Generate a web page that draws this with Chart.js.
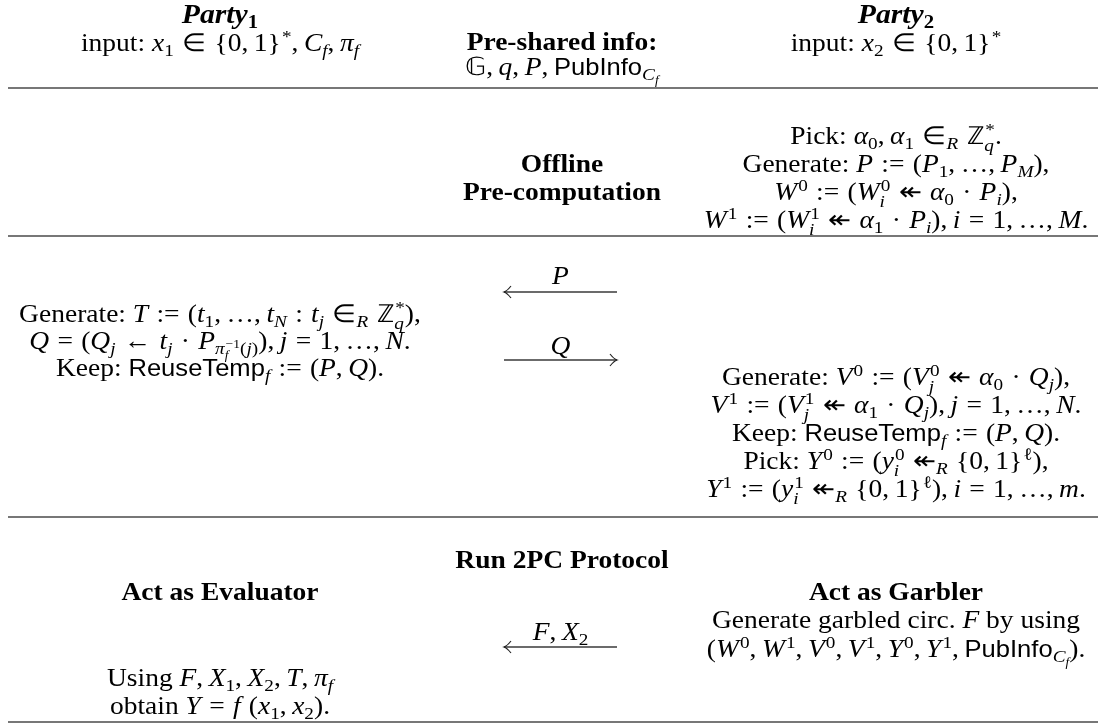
<!DOCTYPE html>
<html>
<head>
<meta charset="utf-8">
<script src="https://cdn.jsdelivr.net/npm/chart.js@4.4.1/dist/chart.umd.min.js"></script>
<style>
  body { margin: 0; background: #fff; }
  canvas { display: block; }
</style>
</head>
<body>
<canvas id="proto" width="1105" height="724"></canvas>
<script>
// ---- content of the protocol table ----
const headerLeft = [String.raw`$\bi{Party_1}$`, String.raw`input: $x_1 ∈ \{0, 1\}^*, C_f, π_f$`];
const headerMid = [String.raw`\bf{Pre-shared info:}`, String.raw`$𝔾, q, P, \sf{PubInfo}_{C_f}$`];
const headerRight = [String.raw`$\bi{Party_2}$`, String.raw`input: $x_2 ∈ \{0, 1\}^*$`];

const offlineMid = [String.raw`\bf{Offline}`, String.raw`\bf{Pre-computation}`];
const offlineRight = [
  String.raw`Pick: $α_0, α_1 ∈_R ℤ_q^*.$`,
  String.raw`Generate: $\cal{P} := (P_1, …, P_M),$`,
  String.raw`$\cal{W}^0 := (W_i^0 ↞ α_0 · P_i),$`,
  String.raw`$\cal{W}^1 := (W_i^1 ↞ α_1 · P_i), i = 1, …, M.$`
];

const exchangeLeft = [
  String.raw`Generate: $T := (t_1, …, t_N : t_j ∈_R ℤ_q^*),$`,
  String.raw`$\cal{Q} = (Q_j ← t_j · P_{π_f^{−1}(j)}), j = 1, …, N.$`,
  String.raw`Keep: $\sf{ReuseTemp}_f := (\cal{P}, \cal{Q}).$`
];
const exchangeRight = [
  String.raw`Generate: $\cal{V}^0 := (V_j^0 ↞ α_0 · Q_j),$`,
  String.raw`$\cal{V}^1 := (V_j^1 ↞ α_1 · Q_j), j = 1, …, N.$`,
  String.raw`Keep: $\sf{ReuseTemp}_f := (\cal{P}, \cal{Q}).$`,
  String.raw`Pick: $Y^0 := (y_i^0 ↞_R \{0, 1\}^ℓ),$`,
  String.raw`$Y^1 := (y_i^1 ↞_R \{0, 1\}^ℓ), i = 1, …, m.$`
];

const runMid = [String.raw`\bf{Run 2PC Protocol}`];
const runLeft = [String.raw`\bf{Act as Evaluator}`, String.raw`Using $F, X_1, X_2, T, π_f$`, String.raw`obtain $Y = f (x_1, x_2).$`];
const runRight = [
  String.raw`\bf{Act as Garbler}`,
  String.raw`Generate garbled circ. $F$ by using`,
  String.raw`$(\cal{W}^0, \cal{W}^1, \cal{V}^0, \cal{V}^1, Y^0, Y^1, \sf{PubInfo}_{C_f}).$`
];

const messageLabels = [String.raw`$\cal{P}$`, String.raw`$\cal{Q}$`, String.raw`$F, X_2$`];
const messageDirs = ['left', 'right', 'left'];

// ---- layout (positions in pixel units of the page) ----
const colX = { left: 220, mid: 562, right: 896 };
const blocks = [
  { lines: headerLeft, x: colX.left, y: [15, 43] },
  { lines: headerMid, x: colX.mid, y: [42, 67] },
  { lines: headerRight, x: colX.right, y: [15, 43] },
  { lines: offlineMid, x: colX.mid, y: [164, 192] },
  { lines: offlineRight, x: colX.right, y: [136, 164, 192, 220] },
  { lines: exchangeLeft, x: colX.left, y: [314, 341, 368] },
  { lines: exchangeRight, x: colX.right, y: [377, 405, 433, 461, 489] },
  { lines: runMid, x: colX.mid, y: [560] },
  { lines: runLeft, x: colX.left, y: [592, 678, 706] },
  { lines: runRight, x: colX.right, y: [592, 620, 649] }
];
const ruleY = [88, 236, 517, 722];
const ruleX = [8, 1098];
const msgLabelY = [276, 346, 632];
const msgShaftY = [292, 360, 647];
const msgX = [504, 617];

const FS = 25;
const STRETCH = 1.1;

// ---- tiny rich text: $math$, _ ^, \bf{} \bi{} \sf{} \cal{} ----
function parseRich(src) {
  let i = 0;
  function seq(st, inGroup) {
    const out = [];
    let buf = '';
    const flush = () => { if (buf) { out.push({ t: 'txt', s: buf, st }); buf = ''; } };
    while (i < src.length) {
      const c = src[i];
      if (c === '\\') {
        const m = /^\\([a-z]+)\{/.exec(src.slice(i));
        if (m) {
          flush(); i += m[0].length;
          const s2 = Object.assign({}, st); s2[m[1]] = true;
          out.push(...seq(s2, true));
          continue;
        }
        buf += src[i + 1]; i += 2; continue;
      }
      if (c === '}' && inGroup) { i++; flush(); return out; }
      if (c === '$') { flush(); st = Object.assign({}, st, { math: !st.math }); i++; continue; }
      if (c === '_' || c === '^') {
        flush();
        const node = { t: 'scr', sub: null, sup: null };
        while (i < src.length && (src[i] === '_' || src[i] === '^')) {
          const kind = src[i] === '_' ? 'sub' : 'sup'; i++;
          let g;
          if (src[i] === '{') { i++; g = seq(st, true); }
          else { const ch = [...src.slice(i)][0]; g = [{ t: 'txt', s: ch, st }]; i += ch.length; }
          node[kind] = g;
        }
        out.push(node);
        continue;
      }
      buf += c; i++;
    }
    flush();
    return out;
  }
  return seq({ math: false }, false);
}

function fontFor(ch, st, size) {
  const letter = /[A-Za-zα-ωΑ-Ω]/.test(ch);
  const px = s => s.toFixed(2) + 'px ';
  if (st.sf) return px(size * 0.93) + '"Liberation Sans"';
  if (st.bi) return (letter ? 'italic bold ' : 'bold ') + px(size * 1.08) + '"Liberation Serif"';
  if (st.bf) return 'bold ' + px(size) + '"Liberation Serif"';
  if (st.cal) return 'italic ' + px(size) + '"Liberation Serif"';
  if (st.math && letter) return 'italic ' + px(size) + '"Liberation Serif"';
  return px(size) + '"Liberation Serif"';
}

function runsOf(node, size) {
  const runs = [];
  const chars = [...node.s];
  chars.forEach((ch, k) => {
    // math mode spacing: thin after commas, thicker round relations
    if (node.st.math && ch === ' ') {
      runs.push({ gap: size * (chars[k - 1] === ',' ? 0.2 : 0.3) });
      return;
    }
    const f = fontFor(ch, node.st, size);
    const last = runs[runs.length - 1];
    if (last && last.f === f) last.s += ch;
    else runs.push({ f, s: ch });
  });
  return runs;
}

// lays out (and optionally draws) a node list; returns width
function layout(ctx, nodes, x, base, size, draw) {
  let w = 0;
  for (const n of nodes) {
    if (n.t === 'txt') {
      for (const r of runsOf(n, size)) {
        if (r.gap) { w += r.gap; continue; }
        ctx.font = r.f;
        if (draw) ctx.fillText(r.s, x + w, base);
        w += ctx.measureText(r.s).width;
      }
    } else {
      const s2 = size * 0.7;
      let sw = 0, pw = 0;
      if (n.sub) sw = layout(ctx, n.sub, x + w, base + size * (n.sup ? 0.27 : 0.2), s2, draw);
      if (n.sup) pw = layout(ctx, n.sup, x + w + 1, base - size * 0.38, s2, draw) + 1;
      w += Math.max(sw, pw);
    }
  }
  return w;
}

function drawRich(ctx, src, cx, cy, size) {
  const nodes = parseRich(src);
  const w = layout(ctx, nodes, 0, 0, size, false);
  ctx.save();
  ctx.translate(cx, 0);
  ctx.scale(STRETCH, 1);
  layout(ctx, nodes, -w / 2, cy + size * 0.33, size, true);
  ctx.restore();
}

const textPlugin = {
  id: 'protocolText',
  afterDatasetsDraw(chart) {
    const { ctx, scales } = chart;
    const px = v => scales.x.getPixelForValue(v);
    const py = v => scales.y.getPixelForValue(v);
    ctx.save();
    ctx.fillStyle = '#000';
    ctx.textBaseline = 'alphabetic';
    blocks.forEach(b => b.lines.forEach((ln, k) => drawRich(ctx, ln, px(b.x), py(b.y[k]), FS)));
    // message labels and arrow heads
    messageLabels.forEach((lab, k) => {
      drawRich(ctx, lab, px((msgX[0] + msgX[1]) / 2), py(msgLabelY[k]), FS);
      const tipX = messageDirs[k] === 'left' ? px(msgX[0]) : px(msgX[1]);
      const d = messageDirs[k] === 'left' ? 1 : -1;
      const y = py(msgShaftY[k]);
      ctx.strokeStyle = '#222';
      ctx.lineWidth = 1.2;
      ctx.beginPath();
      ctx.moveTo(tipX + d * 7, y - 6);
      ctx.quadraticCurveTo(tipX + d * 3, y - 1, tipX, y);
      ctx.quadraticCurveTo(tipX + d * 3, y + 1, tipX + d * 7, y + 6);
      ctx.stroke();
    });
    ctx.restore();
  }
};

const lineSet = (pts, color, width) => ({
  type: 'line', data: pts, borderColor: color, borderWidth: width,
  pointRadius: 0, fill: false, showLine: true, tension: 0
});

const datasets = [];
ruleY.forEach(y => datasets.push(lineSet([{ x: ruleX[0], y }, { x: ruleX[1], y }], '#4a4a4a', 1.6)));
msgShaftY.forEach(y => datasets.push(lineSet([{ x: msgX[0], y }, { x: msgX[1], y }], '#3a3a3a', 1.3)));

new Chart(document.getElementById('proto'), {
  type: 'scatter',
  data: { datasets },
  options: {
    responsive: false,
    animation: false,
    layout: { padding: 0 },
    plugins: { legend: { display: false }, tooltip: { enabled: false } },
    scales: {
      x: { type: 'linear', min: 0, max: 1105, display: false },
      y: { type: 'linear', min: 0, max: 724, reverse: true, display: false }
    }
  },
  plugins: [textPlugin]
});
</script>
</body>
</html>
